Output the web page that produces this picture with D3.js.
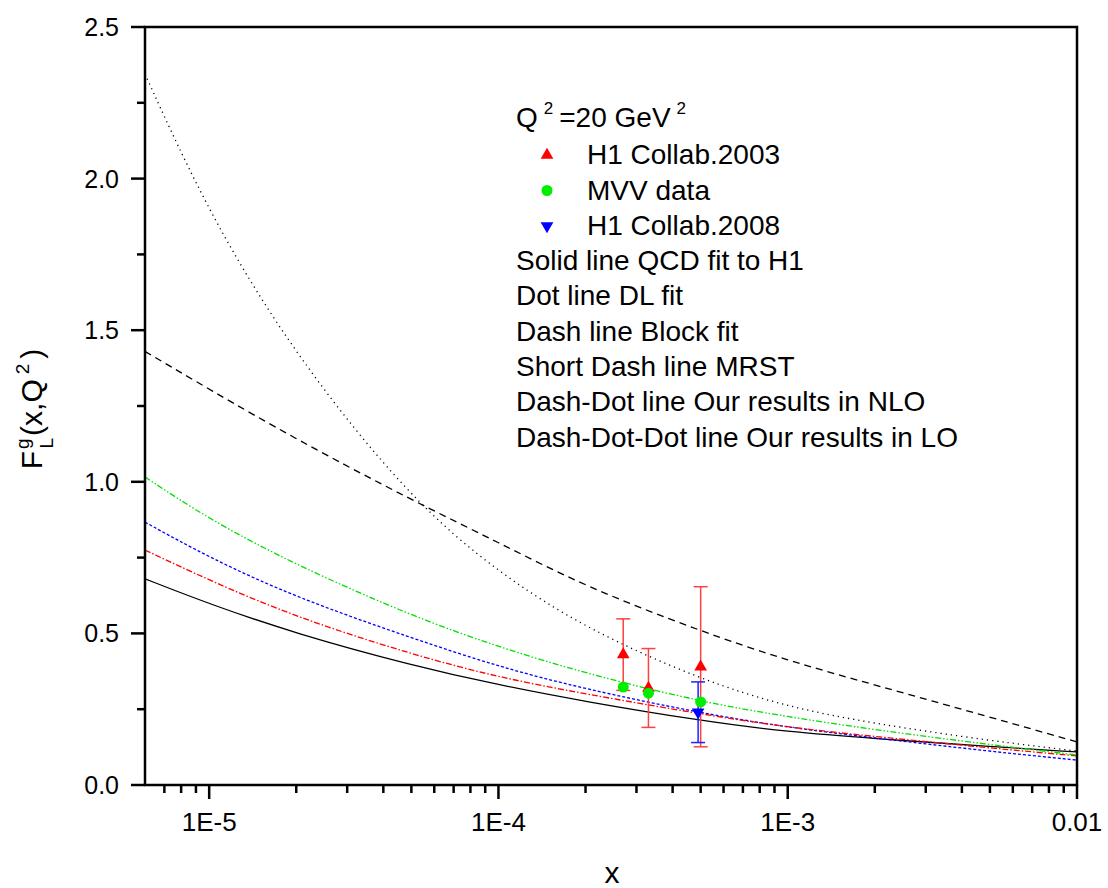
<!DOCTYPE html>
<html>
<head>
<meta charset="utf-8">
<script src="https://cdn.jsdelivr.net/npm/d3@7"></script>
<style>
  body { margin: 0; background: #fff; }
  svg { font-family: "Liberation Sans", Arial, sans-serif; }
</style>
</head>
<body>
<svg id="chart" width="1108" height="888"></svg>
<script>
// x grid the curves were read on
const xGrid = [6e-6, 1e-5, 2e-5, 5e-5, 1e-4, 2e-4, 5e-4, 1e-3, 2e-3, 5e-3, 1e-2];

// curves F_L^g(x, Q^2 = 20 GeV^2)
const qcdFit   = [0.68, 0.597, 0.499, 0.395, 0.33, 0.275, 0.212, 0.175, 0.153, 0.127, 0.109];
const dlFit    = [2.345, 1.88, 1.41, 0.94, 0.70, 0.516, 0.347, 0.257, 0.202, 0.146, 0.112];
const blockFit = [1.43, 1.305, 1.14, 0.94, 0.80, 0.654, 0.507, 0.41, 0.33, 0.224, 0.142];
const mrst     = [0.867, 0.75, 0.618, 0.485, 0.39, 0.316, 0.237, 0.19, 0.155, 0.111, 0.082];
const nlo      = [0.775, 0.675, 0.553, 0.431, 0.355, 0.30, 0.234, 0.19, 0.16, 0.122, 0.096];
const lo       = [1.016, 0.876, 0.725, 0.558, 0.455, 0.368, 0.274, 0.225, 0.182, 0.133, 0.099];

// data points
const h1_2003_x = [2.7e-4, 3.3e-4, 5.0e-4];
const h1_2003_y = [0.43, 0.32, 0.39];
const h1_2003_err = [0.118, 0.13, 0.264];
const mvv_x = [2.7e-4, 3.3e-4, 5.0e-4];
const mvv_y = [0.323, 0.303, 0.274];
const h1_2008_x = [4.9e-4];
const h1_2008_y = [0.24];
const h1_2008_err = [0.10];

const yTicks = [0.0, 0.5, 1.0, 1.5, 2.0, 2.5];
const xTicks = [1e-5, 1e-4, 1e-3, 1e-2];
const xTickLabels = ["1E-5", "1E-4", "1E-3", "0.01"];

const legendLines = [
    "Solid line QCD fit to H1",
    "Dot line DL fit",
    "Dash line Block fit",
    "Short Dash line MRST",
    "Dash-Dot line Our results in NLO",
    "Dash-Dot-Dot line Our results in LO"
];

const svg = d3.select("#chart");
const pLeft = 145, pRight = 1077, pTop = 27, pBottom = 785;

const x = d3.scaleLog().domain([6e-6, 1e-2]).range([pLeft, pRight]);
const y = d3.scaleLinear().domain([0, 2.5]).range([pBottom, pTop]);

// curves
const curves = [
    { vals: qcdFit, color: "#000", dash: null },
    { vals: dlFit, color: "#000", dash: "1.2,4" },
    { vals: blockFit, color: "#000", dash: "7,5" },
    { vals: mrst, color: "#0000ff", dash: "3,2" },
    { vals: nlo, color: "#ff0000", dash: "6,2,1.5,2" },
    { vals: lo, color: "#00e000", dash: "6,2,1.5,2,1.5,2" }
];

const line = d3.line()
    .x(d => x(d[0]))
    .y(d => y(d[1]))
    .curve(d3.curveBasis);

const plot = svg.append("g");
plot.append("clipPath").attr("id", "clip")
    .append("rect").attr("x", pLeft).attr("y", pTop)
    .attr("width", pRight - pLeft).attr("height", pBottom - pTop);

curves.forEach(c => {
    plot.append("path")
        .attr("clip-path", "url(#clip)")
        .attr("d", line(xGrid.map((xv, i) => [xv, c.vals[i]])))
        .attr("fill", "none")
        .attr("stroke", c.color)
        .attr("stroke-width", 1.3)
        .attr("stroke-dasharray", c.dash);
});

// error bars
function errorBars(xs, ys, errs, color) {
    xs.forEach((xv, i) => {
        const px = x(xv);
        const y1 = y(ys[i] + errs[i]), y2 = y(ys[i] - errs[i]);
        plot.append("line").attr("x1", px).attr("x2", px).attr("y1", y1).attr("y2", y2)
            .attr("stroke", color).attr("stroke-width", 1.5);
        [y1, y2].forEach(yy => {
            plot.append("line").attr("x1", px - 7).attr("x2", px + 7).attr("y1", yy).attr("y2", yy)
                .attr("stroke", color).attr("stroke-width", 1.5);
        });
    });
}
errorBars(h1_2003_x, h1_2003_y, h1_2003_err, "#ff4040");
errorBars(h1_2008_x, h1_2008_y, h1_2008_err, "#2020ff");

const triUp = d3.symbol().type(d3.symbolTriangle).size(70);
const circ = d3.symbol().type(d3.symbolCircle).size(95);

h1_2003_x.forEach((xv, i) => {
    plot.append("path").attr("d", triUp())
        .attr("transform", `translate(${x(xv)},${y(h1_2003_y[i])})`)
        .attr("fill", "#ff0000");
});
mvv_x.forEach((xv, i) => {
    plot.append("path").attr("d", circ())
        .attr("transform", `translate(${x(xv)},${y(mvv_y[i])})`)
        .attr("fill", "#00ee00");
});
h1_2008_x.forEach((xv, i) => {
    plot.append("path").attr("d", triUp())
        .attr("transform", `translate(${x(xv)},${y(h1_2008_y[i])}) rotate(180)`)
        .attr("fill", "#0000ff");
});

// frame
svg.append("rect")
    .attr("x", pLeft).attr("y", pTop)
    .attr("width", pRight - pLeft).attr("height", pBottom - pTop)
    .attr("fill", "none").attr("stroke", "#000").attr("stroke-width", 2.5);

// y ticks
const yMinor = d3.range(0.25, 2.5, 0.5);
yTicks.forEach(t => {
    svg.append("line").attr("x1", pLeft - 14).attr("x2", pLeft).attr("y1", y(t)).attr("y2", y(t))
        .attr("stroke", "#000").attr("stroke-width", 2.5);
    svg.append("text").attr("x", 119).attr("y", y(t))
        .attr("text-anchor", "end").attr("dominant-baseline", "central")
        .attr("font-size", 25).text(t.toFixed(1));
});
yMinor.forEach(t => {
    svg.append("line").attr("x1", pLeft - 8).attr("x2", pLeft).attr("y1", y(t)).attr("y2", y(t))
        .attr("stroke", "#000").attr("stroke-width", 2.5);
});

// x ticks
const xMinor = [];
[1e-6, 1e-5, 1e-4, 1e-3].forEach(dec => {
    for (let k = 2; k <= 9; k++) {
        const v = k * dec;
        if (v > 6e-6 * 1.001 && v < 1e-2) xMinor.push(v);
    }
});
xTicks.forEach((t, i) => {
    svg.append("line").attr("x1", x(t)).attr("x2", x(t)).attr("y1", pBottom).attr("y2", pBottom + 14)
        .attr("stroke", "#000").attr("stroke-width", 2.5);
    svg.append("text").attr("x", x(t)).attr("y", 831)
        .attr("text-anchor", "middle").attr("font-size", 26).text(xTickLabels[i]);
});
xMinor.forEach(t => {
    svg.append("line").attr("x1", x(t)).attr("x2", x(t)).attr("y1", pBottom).attr("y2", pBottom + 8)
        .attr("stroke", "#000").attr("stroke-width", 2.5);
});

// axis titles
svg.append("text").attr("x", 612).attr("y", 883)
    .attr("text-anchor", "middle").attr("font-size", 30).text("x");

const yl = svg.append("text")
    .attr("transform", "translate(42,409) rotate(-90)")
    .attr("text-anchor", "middle").attr("font-size", 30);
yl.append("tspan").text("F");
yl.append("tspan").attr("font-size", 19).attr("dx", 2).attr("dy", -13).text("g");
yl.append("tspan").attr("font-size", 19).attr("dx", -10).attr("dy", 24).text("L");
yl.append("tspan").attr("dx", 2).attr("dy", -11).text("(x,Q");
yl.append("tspan").attr("font-size", 19).attr("dx", 5).attr("dy", -13).text("2");
yl.append("tspan").attr("dx", 5).attr("dy", 13).text(")");

// legend
const lg = svg.append("g").attr("font-size", 28);
const q = lg.append("text").attr("x", 516).attr("y", 127);
q.append("tspan").text("Q");
q.append("tspan").attr("font-size", 17).attr("dx", 6).attr("dy", -13).text("2");
q.append("tspan").attr("dx", 6).attr("dy", 13).text("=20 GeV");
q.append("tspan").attr("font-size", 17).attr("dx", 6).attr("dy", -13).text("2");

const symRows = [
    { label: "H1 Collab.2003", sym: triUp, color: "#ff0000", rot: 0 },
    { label: "MVV data", sym: circ, color: "#00ee00", rot: 0 },
    { label: "H1 Collab.2008", sym: triUp, color: "#0000ff", rot: 180 }
];
symRows.forEach((r, i) => {
    const yy = 164 + i * 35.5;
    lg.append("path").attr("d", r.sym())
        .attr("transform", `translate(547,${yy - 9}) rotate(${r.rot})`)
        .attr("fill", r.color);
    lg.append("text").attr("x", 587).attr("y", yy).text(r.label);
});
legendLines.forEach((t, i) => {
    lg.append("text").attr("x", 516).attr("y", 270 + i * 35.3).text(t);
});
</script>
</body>
</html>
